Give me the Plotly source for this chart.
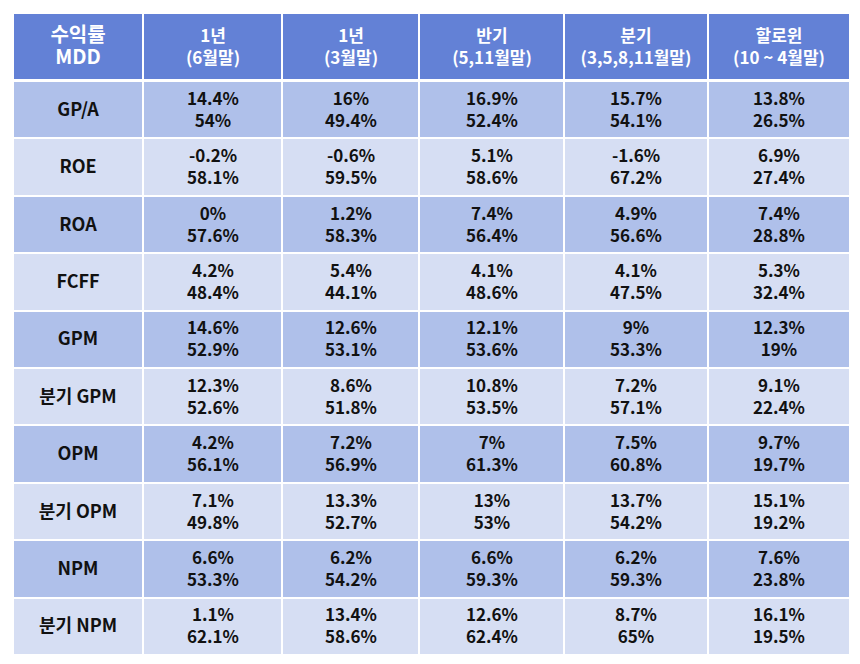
import numpy as np
import plotly.graph_objects as go

W, H = 860, 664

# ---------- data ----------
headers = ['<span style="font-size:20px">수익률<br>MDD</span>', '1년<br>(6월말)', '1년<br>(3월말)',
           '반기<br>(5,11월말)', '분기<br>(3,5,8,11월말)', '할로윈<br>(10 ~ 4월말)']
factors = ['GP/A', 'ROE', 'ROA', 'FCFF', 'GPM', '분기 GPM', 'OPM', '분기 OPM', 'NPM', '분기 NPM']

ret_6m   = [14.4, -0.2, 0, 4.2, 14.6, 12.3, 4.2, 7.1, 6.6, 1.1]
mdd_6m   = [54, 58.1, 57.6, 48.4, 52.9, 52.6, 56.1, 49.8, 53.3, 62.1]
ret_3m   = [16, -0.6, 1.2, 5.4, 12.6, 8.6, 7.2, 13.3, 6.2, 13.4]
mdd_3m   = [49.4, 59.5, 58.3, 44.1, 53.1, 51.8, 56.9, 52.7, 54.2, 58.6]
ret_half = [16.9, 5.1, 7.4, 4.1, 12.1, 10.8, 7, 13, 6.6, 12.6]
mdd_half = [52.4, 58.6, 56.4, 48.6, 53.6, 53.5, 61.3, 53, 59.3, 62.4]
ret_qtr  = [15.7, -1.6, 4.9, 4.1, 9, 7.2, 7.5, 13.7, 6.2, 8.7]
mdd_qtr  = [54.1, 67.2, 56.6, 47.5, 53.3, 57.1, 60.8, 54.2, 59.3, 65]
ret_hal  = [13.8, 6.9, 7.4, 5.3, 12.3, 9.1, 9.7, 15.1, 7.6, 16.1]
mdd_hal  = [26.5, 27.4, 28.8, 32.4, 19, 22.4, 19.7, 19.2, 23.8, 19.5]

# column widths / row heights (table units = px)
col_w = [130, 139, 137, 145, 144, 142]
hdr_h, row_h = 68, 57.4

HEAD = '#6381D6'
ODD, EVEN = '#AFC0EA', '#D6DEF3'
FONT = 'Noto Sans CJK KR'

def cell(r, m):
    return [f"{a:g}%<br>{b:g}%" for a, b in zip(r, m)]

labels = [f'<span style="font-size:18px">{f}</span>' for f in factors]
cols = [labels, cell(ret_6m, mdd_6m), cell(ret_3m, mdd_3m), cell(ret_half, mdd_half),
        cell(ret_qtr, mdd_qtr), cell(ret_hal, mdd_hal)]
body_text = [list(r) for r in zip(*cols)]
n = len(factors)

x_edges = np.concatenate([[0], np.cumsum(col_w)])
y_body = hdr_h + row_h * np.arange(n + 1)
z_body = [[i % 2] * len(headers) for i in range(n)]

fig = go.Figure()
fig.add_trace(go.Heatmap(
    x=x_edges, y=[0, hdr_h], z=[[0] * len(headers)], text=[headers],
    texttemplate='%{text}', colorscale=[[0, HEAD], [1, HEAD]], showscale=False,
    xgap=2, ygap=3, hoverinfo='skip',
    textfont=dict(family=FONT, size=17, color='white', weight='bold')))
fig.add_trace(go.Heatmap(
    x=x_edges, y=y_body, z=z_body, text=body_text,
    texttemplate='%{text}', colorscale=[[0, ODD], [1, EVEN]], zmin=0, zmax=1,
    showscale=False, xgap=2, ygap=2, hoverinfo='skip',
    textfont=dict(family=FONT, size=17, color='#111111', weight='bold')))

# page body adds ~8px around the plot div
off = 8
left, top = 13 - off, 13 - off
fig.update_xaxes(visible=False, range=[0, x_edges[-1]], fixedrange=True)
fig.update_yaxes(visible=False, range=[y_body[-1], 0], fixedrange=True)
fig.update_layout(width=W, height=H,
                  margin=dict(l=left, t=top, r=W - left - x_edges[-1], b=H - top - y_body[-1]),
                  paper_bgcolor='white', plot_bgcolor='white')
fig.write_html("out.html")
